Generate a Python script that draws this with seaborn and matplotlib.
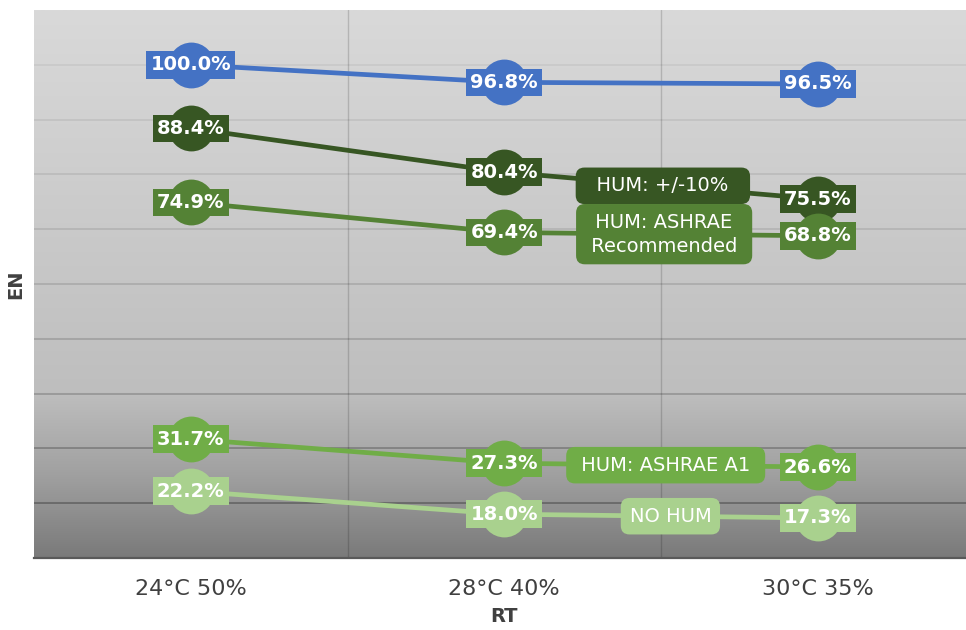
import numpy as np
import pandas as pd
import matplotlib
matplotlib.use("Agg")
import matplotlib.pyplot as plt
from matplotlib.colors import LinearSegmentedColormap
import seaborn as sns

# Operating points on the x axis
categories = ["24°C 50%", "28°C 40%", "30°C 35%"]

# Normalised energy per humidity-control strategy
series_names = ["HUM: ASHRAE (ref)", "HUM: +/-10%", "HUM: ASHRAE\nRecommended",
                "HUM: ASHRAE A1", "NO HUM"]
ref_vals = [1.000, 0.968, 0.965]
hum10_vals = [0.884, 0.804, 0.755]
rec_vals = [0.749, 0.694, 0.688]
a1_vals = [0.317, 0.273, 0.266]
nohum_vals = [0.222, 0.180, 0.173]
colors = ["#4472C4", "#375623", "#548235", "#70AD47", "#A9D18E"]

# Where along each line the series name tag sits (None = no tag),
# and how many spaces of side padding the tag gets
tag_x = [None, 1.506, 1.51, 1.515, 1.53]
tag_pad = [0, 2, 1, 1, 0]

all_vals = [ref_vals, hum10_vals, rec_vals, a1_vals, nohum_vals]
df = pd.DataFrame({
    "pos": np.tile(np.arange(len(categories)), len(series_names)),
    "value": np.concatenate(all_vals),
    "series": np.repeat(series_names, len(categories)),
})

sns.set_theme(style="white")
plt.rcParams["font.family"] = ["DejaVu Sans"]

fig = plt.figure(figsize=(9.66, 6.30), dpi=100)
ax = fig.add_axes([34 / 966, 72 / 630, 940.5 / 966, 548 / 630])

y0, y1 = 0.1, 1.1
x0, x1 = -0.5, 2.5

# Vertical gradient fill of the plot area (light at top, darker at bottom)
grad_cmap = LinearSegmentedColormap.from_list(
    "bg", [(0.0, "#d9d9d9"), (0.70, "#bebebe"), (0.85, "#a0a0a0"), (1.0, "#7a7a7a")])
grad = np.linspace(0, 1, 256).reshape(-1, 1)
ax.imshow(grad, extent=[x0, x1, y0, y1], aspect="auto", cmap=grad_cmap,
          zorder=0, interpolation="bilinear", origin="upper")

# Horizontal gridlines, darker towards the bottom
for gy in np.arange(0.2, 1.1, 0.1):
    t = (y1 - gy) / (y1 - y0)
    dark = 0.05 + 0.27 * t ** 2
    ax.axhline(gy, color="black", alpha=dark, linewidth=1.4, zorder=1)
for gx in [0.5, 1.5]:
    ax.axvline(gx, color="black", alpha=0.16, linewidth=1.0, zorder=1)

sns.lineplot(data=df, x="pos", y="value", hue="series", hue_order=series_names,
             palette=colors, marker="o", markersize=33, markeredgewidth=0,
             linewidth=3.4, legend=False, sort=False, ax=ax, zorder=3)

# Value labels on each point
for name, vals, col in zip(series_names, all_vals, colors):
    for i, v in enumerate(vals):
        ax.text(i, v, f"{v * 100:.1f}%", ha="center", va="center",
                fontsize=14, fontweight="bold", color="white", zorder=6,
                bbox=dict(boxstyle="square,pad=0.22", fc=col, ec="none"))

# Series name tags placed on the line between the last two points
for name, vals, col, tx, npad in zip(series_names, all_vals, colors, tag_x, tag_pad):
    if tx is None:
        continue
    ty = np.interp(tx, np.arange(len(vals)), vals)
    sp = " " * npad
    label = "\n".join(sp + line + sp for line in name.split("\n"))
    ax.text(tx, ty, label, ha="center", va="center", fontsize=14,
            color="white", zorder=7, linespacing=1.32, multialignment="center",
            bbox=dict(boxstyle="round,pad=0.45,rounding_size=0.45", fc=col, ec="none"))

ax.set_xlim(x0, x1)
ax.set_ylim(y0, y1)
ax.set_xticks(range(len(categories)))
ax.set_xticklabels(categories, fontsize=16, color="#404040")
ax.set_yticks([])
ax.tick_params(axis="x", length=0, pad=15)
ax.set_xlabel("RT", fontsize=14, fontweight="bold", color="#404040", labelpad=6)
ax.set_ylabel("EN", fontsize=14, fontweight="bold", color="#404040")
ax.yaxis.set_label_coords(-9 / 940.5, 0.5)

for side in ["top", "right", "left"]:
    ax.spines[side].set_visible(False)
ax.spines["bottom"].set_color("#595959")
ax.spines["bottom"].set_linewidth(1.6)
ax.spines["bottom"].set_zorder(4)

fig.savefig("out.png", dpi=100)
